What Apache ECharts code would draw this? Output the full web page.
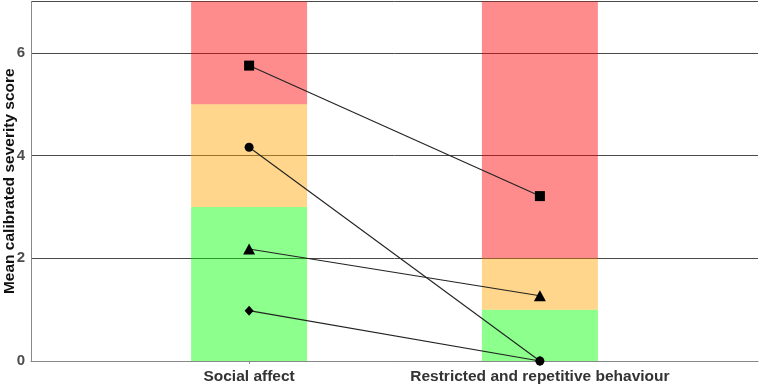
<!DOCTYPE html>
<html>
<head>
<meta charset="utf-8">
<script src="https://cdn.jsdelivr.net/npm/echarts@6/dist/echarts.min.js"></script>
<style>
html,body{margin:0;padding:0;background:#fff;}
#chart{width:762px;height:387px;}
</style>
</head>
<body>
<div id="chart"></div>
<script>
// Domains (x positions 1 and 2)
var categories = ['Social affect', 'Restricted and repetitive behaviour'];
var categoryPos = [1, 2];
// Severity bands (segment heights, stacked from 0)
var greenBand = [3, 1];
var orangeBand = [2, 1];
var redBand = [2, 5];
// Mean calibrated severity scores per group
var squareScores = [5.75, 3.21];
var circleScores = [4.16, 0];
var triangleScores = [2.18, 1.27];
var diamondScores = [0.98, 0];
var yTicks = [0, 2, 4, 6];

function pairs(vals) { return categoryPos.map(function (p, i) { return [p, vals[i]]; }); }

// build [x, low, high, colorIndex] segments from the band heights
var bandColors = ['rgba(0,255,0,0.45)', 'rgba(255,165,0,0.45)', 'rgba(255,0,0,0.45)'];
var bandData = [];
categoryPos.forEach(function (p, i) {
  var base = 0;
  [greenBand, orangeBand, redBand].forEach(function (b, k) {
    bandData.push([p, base, base + b[i], k]);
    base += b[i];
  });
});

var font = '"Liberation Sans", Arial, sans-serif';
var chart = echarts.init(document.getElementById('chart'), null, { renderer: 'canvas' });

function pts(name, vals, symbol, size) {
  return {
    name: name, type: 'line', data: pairs(vals), symbol: symbol, symbolSize: size,
    itemStyle: { color: '#000' }, lineStyle: { color: '#222', width: 1.1 },
    showSymbol: true, z: 5, silent: true
  };
}

chart.setOption({
  animation: false,
  backgroundColor: '#fff',
  grid: { left: 31, right: 4, top: 1.4, bottom: 26, containLabel: false, outerBoundsMode: 'none' },
  xAxis: {
    type: 'value', min: 0.25, max: 2.75, offset: 3,
    axisLine: { show: true, lineStyle: { color: '#888', width: 1 } },
    axisTick: { show: true, length: 3, customValues: categoryPos, lineStyle: { color: '#888' } },
    axisLabel: {
      customValues: categoryPos, margin: 5,
      formatter: function (v) { var i = categoryPos.indexOf(v); return i >= 0 ? categories[i] : ''; },
      fontFamily: font, fontWeight: 'bold', fontSize: 15.5, color: '#333'
    },
    splitLine: { show: false }
  },
  yAxis: {
    type: 'value', min: 0, max: 7, interval: 2,
    name: 'Mean calibrated severity score', nameLocation: 'middle', nameGap: 13,
    nameMoveOverlap: false,
    nameTextStyle: { fontFamily: font, fontWeight: 'bold', fontSize: 15.5, color: '#111' },
    axisLine: { show: true, lineStyle: { color: '#888', width: 1 } },
    axisTick: { show: false },
    axisLabel: {
      margin: 6, fontFamily: font, fontWeight: 'bold', fontSize: 15, color: '#4d4d4d',
      formatter: function (v) { return yTicks.indexOf(v) >= 0 ? String(v) : ''; },
      showMaxLabel: false
    },
    splitLine: { show: true, lineStyle: { color: '#4a4a4a', width: 1 } }
  },
  series: [
    {
      name: 'Bands', type: 'custom', data: bandData, silent: true, z: 2,
      encode: { x: 0, y: [1, 2] },
      renderItem: function (params, api) {
        var x = api.value(0), lo = api.value(1), hi = api.value(2), k = api.value(3);
        var p0 = api.coord([x, lo]);
        var p1 = api.coord([x, hi]);
        var w = 116;
        return {
          type: 'rect',
          shape: { x: p0[0] - w / 2, y: p1[1], width: w, height: p0[1] - p1[1] },
          style: { fill: bandColors[k] }
        };
      }
    },
    pts('Diamond', diamondScores, 'diamond', [9, 10]),
    pts('Triangle', triangleScores, 'triangle', [12, 11]),
    pts('Square', squareScores, 'rect', 10),
    pts('Circle', circleScores, 'circle', 9)
  ]
});
</script>
</body>
</html>
